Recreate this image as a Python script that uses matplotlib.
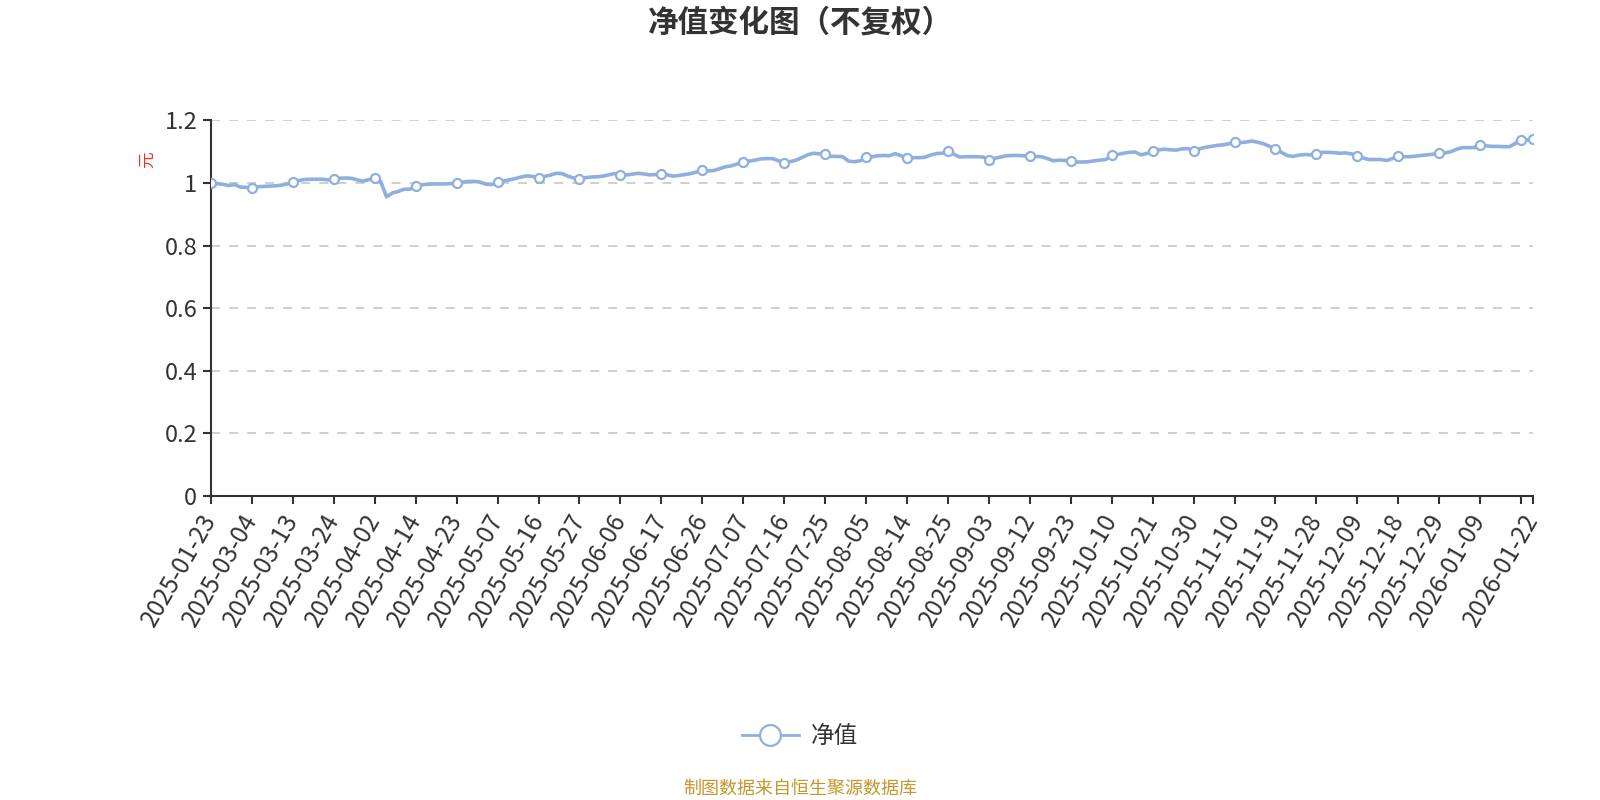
import numpy as np
import pandas as pd
import matplotlib
matplotlib.use("Agg")
import matplotlib.pyplot as plt
from matplotlib.lines import Line2D

plt.rcParams['font.family'] = ['Noto Sans CJK SC', 'DejaVu Sans']

# 前期为周度净值，之后为每个交易日
early_dates = ['2025-01-23', '2025-01-24', '2025-02-07', '2025-02-14',
               '2025-02-21', '2025-02-28', '2025-03-03']
holidays = ['2025-04-04', '2025-05-01', '2025-05-02', '2025-05-05', '2025-06-02',
            '2025-10-01', '2025-10-02', '2025-10-03', '2025-10-06', '2025-10-07',
            '2025-10-08', '2026-01-01', '2026-01-02']
daily = pd.bdate_range('2025-03-04', '2026-01-22', freq='C', holidays=holidays)
dates = early_dates + [d.strftime('%Y-%m-%d') for d in daily]

nav = [1.000, 0.998, 0.996, 0.992, 0.995, 0.987, 0.986, 0.985,
       0.988, 0.989, 0.990, 0.991, 0.993, 0.997, 1.003,
       1.008, 1.011, 1.012, 1.012, 1.012, 1.010, 1.012,
       1.015, 1.016, 1.015, 1.010, 1.006, 1.011, 1.016,
       1.005, 0.956, 0.968, 0.973, 0.980, 0.980, 0.991,
       0.994, 0.996, 0.997, 0.997, 0.997, 0.998, 1.000,
       1.003, 1.005, 1.005, 1.003, 0.996, 0.995, 1.003,
       1.006, 1.010, 1.014, 1.019, 1.023, 1.021, 1.016,
       1.021, 1.025, 1.031, 1.030, 1.022, 1.016, 1.013,
       1.017, 1.019, 1.020, 1.022, 1.026, 1.030, 1.026,
       1.026, 1.028, 1.031, 1.029, 1.026, 1.027, 1.030,
       1.026, 1.022, 1.024, 1.027, 1.030, 1.035, 1.041,
       1.039, 1.040, 1.046, 1.052, 1.055, 1.061, 1.067,
       1.070, 1.073, 1.077, 1.078, 1.078, 1.071, 1.065,
       1.068, 1.073, 1.081, 1.090, 1.095, 1.093, 1.093,
       1.085, 1.085, 1.084, 1.070, 1.068, 1.071, 1.082,
       1.084, 1.087, 1.088, 1.087, 1.094, 1.087, 1.081,
       1.081, 1.081, 1.082, 1.089, 1.094, 1.095, 1.102,
       1.092, 1.083, 1.084, 1.084, 1.084, 1.083, 1.075,
       1.079, 1.083, 1.087, 1.088, 1.088, 1.087, 1.086,
       1.085, 1.084, 1.078, 1.071, 1.073, 1.072, 1.070,
       1.067, 1.067, 1.068, 1.071, 1.073, 1.075, 1.089,
       1.091, 1.095, 1.098, 1.099, 1.090, 1.094, 1.102,
       1.106, 1.108, 1.106, 1.105, 1.109, 1.110, 1.103,
       1.109, 1.114, 1.117, 1.120, 1.122, 1.125, 1.131,
       1.129, 1.131, 1.134, 1.130, 1.125, 1.117, 1.109,
       1.098, 1.088, 1.085, 1.089, 1.091, 1.090, 1.092,
       1.098, 1.098, 1.097, 1.095, 1.096, 1.093, 1.086,
       1.080, 1.075, 1.075, 1.075, 1.072, 1.078, 1.086,
       1.084, 1.084, 1.086, 1.088, 1.090, 1.092, 1.095,
       1.096, 1.100, 1.108, 1.113, 1.113, 1.113, 1.120,
       1.119, 1.117, 1.117, 1.116, 1.116, 1.126, 1.138,
       1.137, 1.139]

yticks = [0, 0.2, 0.4, 0.6, 0.8, 1.0, 1.2]
ytick_labels = ['0', '0.2', '0.4', '0.6', '0.8', '1', '1.2']

n = min(len(dates), len(nav))
dates = dates[:n]
nav = nav[:n]
x = np.arange(n)

step = 7
tick_pos = list(range(0, n - 2, step)) + [n - 1]
tick_lab = [dates[i] if i < n - 3 or i == n - 1 else '' for i in tick_pos]
mark_pos = tick_pos

line_c = '#8fb0de'
axis_c = '#333333'

fig = plt.figure(figsize=(16, 8), dpi=100)
ax = fig.add_axes([0.1319, 0.38, 0.958 - 0.1319, 0.8495 - 0.38])

ax.plot(x, nav, color=line_c, lw=2.6, marker='o', markevery=mark_pos,
        markersize=6.5, markerfacecolor='white', markeredgecolor=line_c,
        markeredgewidth=1.6, zorder=3, solid_joinstyle='round')

ax.set_xlim(0, n - 1)
ax.set_ylim(0, 1.2)
ax.set_yticks(yticks)
ax.set_yticklabels(ytick_labels, fontsize=17, color=axis_c)
ax.set_xticks(tick_pos)
ax.set_xticklabels(tick_lab, rotation=60, ha='right', va='center',
                   rotation_mode='anchor', fontsize=17.5, color=axis_c)

for v in yticks[1:]:
    ax.axhline(v, color='#cccccc', lw=1.3, ls=(0, (5, 5)), zorder=1)

for s in ['top', 'right']:
    ax.spines[s].set_visible(False)
for s in ['left', 'bottom']:
    ax.spines[s].set_color(axis_c)
    ax.spines[s].set_linewidth(1.5)
ax.tick_params(axis='both', colors=axis_c, length=6, width=1.5, pad=4)
ax.tick_params(axis='x', pad=8)

fig.text(0.5, 0.972, '净值变化图（不复权）', ha='center', va='center',
         fontsize=22, fontweight='bold', color='#333333')
fig.text(0.092, 0.8, '元', ha='center', va='center', rotation=90,
         fontsize=12, color='#e8312f')

h = Line2D([0], [0], color=line_c, lw=2, marker='o', markersize=15,
           markerfacecolor='white', markeredgecolor=line_c, markeredgewidth=1.6)
fig.legend([h], ['净值'], loc='center', bbox_to_anchor=(0.5, 0.079),
           frameon=False, fontsize=17, handlelength=2.4, handletextpad=0.5,
           labelcolor='#333333')

fig.text(0.5, 0.014, '制图数据来自恒生聚源数据库', ha='center', va='center',
         fontsize=13, color='#c8962a')

fig.savefig('out.png', dpi=100)
